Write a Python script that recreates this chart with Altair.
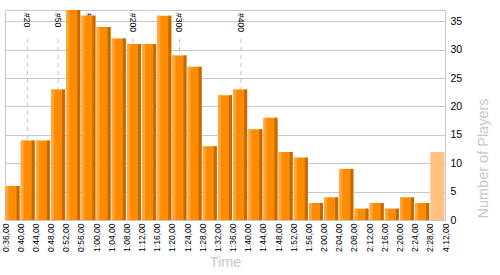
import altair as alt
import pandas as pd

# Bin edge labels (x axis), counts per bin, and bin kinds
edge_labels = ["0:36,00", "0:40,00", "0:44,00", "0:48,00", "0:52,00", "0:56,00",
               "1:00,00", "1:04,00", "1:08,00", "1:12,00", "1:16,00", "1:20,00",
               "1:24,00", "1:28,00", "1:32,00", "1:36,00", "1:40,00", "1:44,00",
               "1:48,00", "1:52,00", "1:56,00", "2:00,00", "2:04,00", "2:08,00",
               "2:12,00", "2:16,00", "2:20,00", "2:24,00", "2:28,00", "4:12,00"]
player_counts = [6, 14, 14, 23, 37, 36, 34, 32, 31, 31, 36, 29, 27, 13, 22,
                 23, 16, 18, 12, 11, 3, 4, 9, 2, 3, 2, 4, 3, 12]
bin_kind = ["normal"] * 28 + ["overflow"]

# Milestone markers: label and time in minutes
marker_labels = ["#20", "#50", "#100", "#200", "#300", "#400"]
marker_minutes = [41.9, 50.0, 58.2, 69.8, 82.0, 98.2]

bars = pd.DataFrame({
    "bin": list(range(len(player_counts))),
    "count": player_counts,
    "kind": bin_kind,
})
markers = pd.DataFrame({"label": marker_labels, "minutes": marker_minutes})

FONT = "Liberation Sans"
xscale = alt.Scale(domain=[0, len(edge_labels) - 1], nice=False, zero=False)
yscale = alt.Scale(domain=[0, 37], nice=False)

label_expr = "[" + ",".join("'" + e + "'" for e in edge_labels) + "][datum.value]"

xaxis = alt.Axis(
    values=list(range(len(edge_labels))), labelExpr=label_expr,
    labelAngle=270, labelFont=FONT, labelFontSize=8.5, labelColor="black",
    labelPadding=3, labelOverlap=False, labelFlush=False,
    ticks=False, domain=False, grid=False,
    titleFont=FONT, titleFontSize=14.5, titleColor="#c8c8c8", titleFontWeight="normal",
    titleX=220, titleY=42, titleAlign="center", titleBaseline="middle",
)
yaxis = alt.Axis(
    orient="right", values=[0, 5, 10, 15, 20, 25, 30, 35], grid=True,
    gridColor="#c8c8c8", ticks=False, domain=False,
    labelFont=FONT, labelFontSize=10.5, labelColor="black", labelPadding=5,
    titleFont=FONT, titleFontSize=14.5, titleColor="#c8c8c8", titleFontWeight="normal",
    titleAngle=270, titleX=38, titleY=208, titleAlign="left", titleBaseline="middle",
)
XT = "Time"
YT = "Number of Players"


def bar_layer(lo, hi, color=None, filt=True):
    base = alt.Chart(bars)
    if filt:
        base = base.transform_filter("datum.kind == 'normal'")
    base = base.transform_calculate(
        x0="datum.bin + %s" % lo, x1="datum.bin + %s" % hi
    )
    kw = {}
    if color is not None:
        kw["color"] = color
    enc = dict(
        x=alt.X("x0:Q", scale=xscale, axis=xaxis, title=XT),
        x2="x1:Q",
        y=alt.Y("count:Q", scale=yscale, axis=yaxis, title=YT),
        y2=alt.datum(0),
    )
    if color is None:
        enc["color"] = alt.Color(
            "kind:N", scale=alt.Scale(domain=["normal", "overflow"],
                                      range=["#ff8c00", "#ffc080"]), legend=None)
    return base.mark_bar(**kw).encode(**enc)


rules = alt.Chart(markers).transform_calculate(
    pos="(datum.minutes - 36) / 4"
).mark_rule(color="#c0c0c0", strokeDash=[4, 4], strokeWidth=1).encode(
    x=alt.X("pos:Q", scale=xscale, axis=xaxis, title=XT),
    y=alt.value(29), y2=alt.value(210),
)
texts = alt.Chart(markers).transform_calculate(
    pos="(datum.minutes - 36) / 4"
).mark_text(angle=90, align="left", baseline="middle", font=FONT, fontSize=8.5,
            color="black").encode(
    x=alt.X("pos:Q", scale=xscale, axis=xaxis, title=XT),
    y=alt.value(3),
    text="label:N",
)

main = bar_layer(0.04, 0.96, filt=False)
light = bar_layer(0.04, 0.23, color="#ffa53a")
dark = bar_layer(0.76, 0.96, color="#c46a00")

chart = alt.layer(rules, texts, main, light, dark).properties(
    width=440, height=210,
    autosize=alt.AutoSizeParams(type="none"),
    padding={"left": 5, "top": 10, "right": 55, "bottom": 55},
    background="white",
).configure_view(stroke="#c8c8c8", strokeWidth=1)

chart.save("out.html", embed_options={"renderer": "svg", "actions": False})
